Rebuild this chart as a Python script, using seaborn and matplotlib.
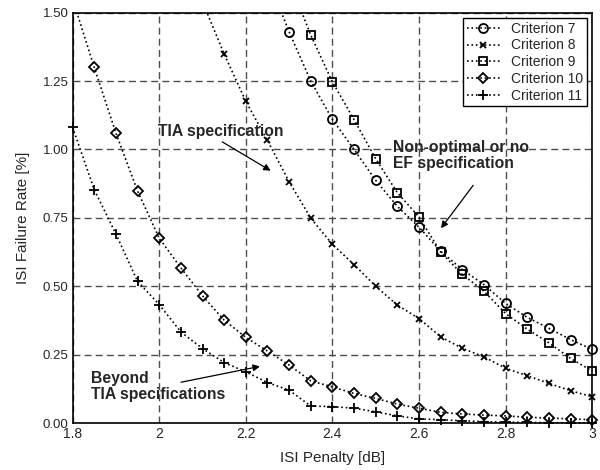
import numpy as np
import pandas as pd
import seaborn as sns
import matplotlib.pyplot as plt
from matplotlib.patches import Rectangle

# ISI penalty points (dB)
penalty = [1.8, 1.85, 1.9, 1.95, 2.0, 2.05, 2.1, 2.15, 2.2, 2.25, 2.3, 2.35, 2.4,
           2.45, 2.5, 2.55, 2.6, 2.65, 2.7, 2.75, 2.8, 2.85, 2.9, 2.95, 3.0]

# failure rate [%] per criterion
crit7_x = [2.25, 2.3, 2.35, 2.4, 2.45, 2.5, 2.55, 2.6, 2.65, 2.7, 2.75, 2.8, 2.85, 2.9, 2.95, 3.0]
crit7_y = [1.63, 1.43, 1.25, 1.11, 1.00, 0.887, 0.792, 0.716, 0.628, 0.561, 0.506, 0.437, 0.386, 0.346, 0.305, 0.269]

crit8_x = [2.1, 2.15, 2.2, 2.25, 2.3, 2.35, 2.4, 2.45, 2.5, 2.55, 2.6, 2.65, 2.7, 2.75, 2.8, 2.85, 2.9, 2.95, 3.0]
crit8_y = [1.54, 1.349, 1.176, 1.033, 0.882, 0.749, 0.653, 0.579, 0.500, 0.431, 0.382, 0.315, 0.273, 0.242, 0.200, 0.173, 0.145, 0.118, 0.096]

crit9_x = [2.3, 2.35, 2.4, 2.45, 2.5, 2.55, 2.6, 2.65, 2.7, 2.75, 2.8, 2.85, 2.9, 2.95, 3.0]
crit9_y = [1.62, 1.418, 1.247, 1.109, 0.966, 0.842, 0.753, 0.625, 0.543, 0.482, 0.400, 0.343, 0.293, 0.236, 0.190]

crit10_x = penalty
crit10_y = [1.55, 1.30, 1.06, 0.848, 0.676, 0.567, 0.465, 0.376, 0.313, 0.263, 0.212, 0.154, 0.132,
            0.108, 0.090, 0.069, 0.054, 0.039, 0.033, 0.029, 0.026, 0.021, 0.018, 0.015, 0.012]

crit11_x = penalty
crit11_y = [1.081, 0.853, 0.691, 0.518, 0.433, 0.333, 0.272, 0.221, 0.187, 0.148, 0.120, 0.062, 0.060,
            0.054, 0.041, 0.026, 0.015, 0.012, 0.008, 0.005, 0.003, 0.002, 0.001, 0.001, 0.0]

series = [
    ('Criterion 7', crit7_x, crit7_y, 'o'),
    ('Criterion 8', crit8_x, crit8_y, 'x'),
    ('Criterion 9', crit9_x, crit9_y, 's'),
    ('Criterion 10', crit10_x, crit10_y, 'D'),
    ('Criterion 11', crit11_x, crit11_y, '+'),
]

xticks = [1.8, 2.0, 2.2, 2.4, 2.6, 2.8, 3.0]
xtick_labels = ['1.8', '2', '2.2', '2.4', '2.6', '2.8', '3']
yticks = [0, 0.25, 0.5, 0.75, 1.0, 1.25, 1.5]
ytick_labels = ['0.00', '0.25', '0.50', '0.75', '1.00', '1.25', '1.50']

sns.set_style('white')
plt.rcParams['font.family'] = ['Liberation Sans', 'DejaVu Sans']

fig = plt.figure(figsize=(6, 4.7), dpi=100)
ax = fig.add_axes([0.121, 0.100, 0.866, 0.873])

sizes = {'o': 6.5, 'x': 5, 's': 6, 'D': 5.5, '+': 7}
for name, xs, ys, mk in series:
    df = pd.DataFrame({'x': xs, 'y': ys})
    sns.lineplot(data=df, x='x', y='y', ax=ax, color='k', linestyle=':', linewidth=1.2,
                 marker=mk, markersize=sizes[mk], markerfacecolor='none', markeredgecolor='k',
                 markeredgewidth=1.3, label=name)

# keep edge markers whole, but cut lines at the top of the plot
clip = Rectangle((-0.03, -0.03), 1.06, 1.03, transform=ax.transAxes, fill=False, visible=False)
ax.add_patch(clip)
for ln in ax.get_lines():
    ln.set_clip_path(clip)

ax.set_xlim(1.8, 3.0)
ax.set_ylim(0, 1.5)
ax.set_xticks(xticks)
ax.set_xticklabels(xtick_labels, fontsize=10)
ax.set_yticks(yticks)
ax.set_yticklabels(ytick_labels, fontsize=9.5)
ax.tick_params(axis='both', direction='in', length=3, pad=3)
ax.grid(True, color='0.3', linestyle=(0, (5, 3)), linewidth=1.0)
for sp in ax.spines.values():
    sp.set_color('k')
    sp.set_linewidth(1.2)
    sp.set_zorder(3)

ax.set_xlabel('ISI Penalty [dB]', fontsize=11, labelpad=7)
ax.set_ylabel('ISI Failure Rate [%]', fontsize=11, labelpad=9)

leg = ax.legend(loc='upper right', fontsize=10, frameon=True, fancybox=False, edgecolor='k',
                handlelength=2.4, borderpad=0.25, labelspacing=0.2, handletextpad=0.8,
                borderaxespad=0.4, framealpha=1)
leg.get_frame().set_linewidth(1.0)
leg.set_zorder(5)

arrow = dict(arrowstyle='-|>', color='k', lw=0.9, mutation_scale=10)
ax.text(1.997, 1.067, 'TIA specification', fontsize=11.3, fontweight='bold', va='center', ha='left')
ax.annotate('', xy=(2.263, 0.917), xytext=(2.14, 1.033), arrowprops=arrow)

ax.text(2.539, 0.978, 'Non-optimal or no\nEF specification', fontsize=11.3, fontweight='bold',
        va='center', ha='left', linespacing=1.1)
ax.annotate('', xy=(2.647, 0.704), xytext=(2.729, 0.877), arrowprops=arrow)

ax.text(1.842, 0.133, 'Beyond\nTIA specifications', fontsize=11.3, fontweight='bold',
        va='center', ha='left', linespacing=1.1)
ax.annotate('', xy=(2.239, 0.209), xytext=(2.044, 0.147), arrowprops=arrow)

fig.savefig('out.png', dpi=100)
